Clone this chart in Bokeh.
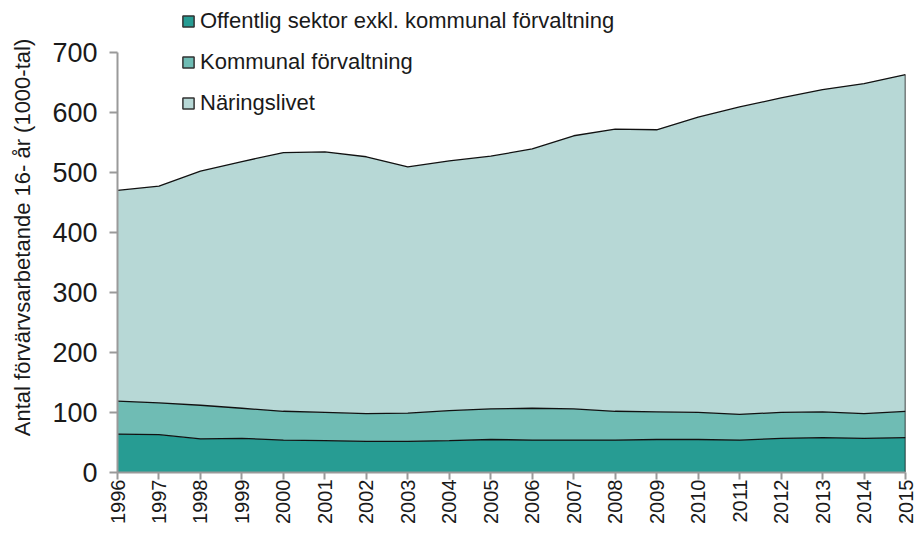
from bokeh.plotting import figure
from bokeh.models import ColumnDataSource, Range1d, FixedTicker, Legend, LegendItem
from bokeh.embed import file_html
from bokeh.resources import INLINE

years = list(range(1996, 2016))
offentlig = [64, 63, 56, 57, 54, 53, 52, 52, 53, 55, 54, 54, 54, 55, 55, 54, 57, 58, 57, 58]
kommunal = [55, 53, 56, 50, 48, 47, 46, 47, 50, 51, 53, 52, 48, 46, 45, 43, 43, 43, 41, 44]
naringsliv = [351, 361, 390, 411, 431, 434, 428, 410, 416, 421, 432, 455, 470, 470, 492, 512, 524, 537, 550, 561]
y_ticks = [0, 100, 200, 300, 400, 500, 600, 700]
series_names = ["Offentlig sektor exkl. kommunal förvaltning", "Kommunal förvaltning", "Näringslivet"]
colors = ["#279c93", "#6fbcb4", "#b7d8d6"]

COND = "'Liberation Sans Narrow', 'Arial Narrow', 'Liberation Sans', sans-serif"
REG = "'Liberation Sans', Arial, sans-serif"

source = ColumnDataSource(dict(year=years, off=offentlig, kom=kommunal, nar=naringsliv))

p = figure(width=916, height=538, output_backend="svg", toolbar_location=None,
           x_range=Range1d(years[0], years[-1]), y_range=Range1d(0, 783))
p.min_border_left = 117
p.min_border_right = 11
p.min_border_top = 2
p.min_border_bottom = 66
p.outline_line_color = None
p.background_fill_color = "white"
p.border_fill_color = "white"
p.xgrid.visible = False
p.ygrid.visible = False

p.varea_stack(["off", "kom", "nar"], x="year", color=colors, source=source)
p.vline_stack(["off", "kom", "nar"], x="year", color="#111111", line_width=1.3, source=source)
total_last = offentlig[-1] + kommunal[-1] + naringsliv[-1]
p.segment(x0=[years[-1]], y0=[0], x1=[years[-1]], y1=[total_last], line_color="#111111", line_width=1.5)

# legend swatches (hidden renderers, used only for the legend glyphs)
items = []
for name, c in zip(series_names, colors):
    r = p.rect(x=years[:1], y=offentlig[:1], width=1, height=1, fill_color=c,
               line_color="#333333", line_width=1.5, visible=False)
    items.append(LegendItem(label=name, renderers=[r]))
legend = Legend(items=items, location=(64, 356))
legend.label_text_font = COND
legend.label_text_font_size = "22px"
legend.label_text_color = "#1a1a1a"
legend.glyph_width = 14
legend.glyph_height = 14
legend.label_height = 20
legend.label_standoff = 5
legend.spacing = 15
legend.padding = 0
legend.margin = 0
legend.border_line_color = None
legend.background_fill_alpha = 0
legend.inactive_fill_alpha = 0
p.add_layout(legend)

# axes
xa = p.xaxis[0]
xa.ticker = FixedTicker(ticks=years)
xa.major_label_orientation = 3.14159265 / 2
xa.major_label_text_font = REG
xa.major_label_text_font_size = "20px"
xa.major_label_text_color = "#1a1a1a"
xa.axis_line_color = "#9a9a9a"
xa.axis_line_width = 2
xa.major_tick_line_color = "#9a9a9a"
xa.major_tick_line_width = 2
xa.major_tick_out = 7
xa.major_tick_in = 0
xa.minor_tick_line_color = None
xa.major_label_standoff = 0

ya = p.yaxis[0]
ya.ticker = FixedTicker(ticks=y_ticks)
ya.bounds = (y_ticks[0], y_ticks[-1])
ya.major_label_text_font = COND
ya.major_label_text_font_size = "27px"
ya.major_label_text_color = "#1a1a1a"
ya.axis_line_color = "#9a9a9a"
ya.axis_line_width = 2
ya.major_tick_line_color = "#9a9a9a"
ya.major_tick_line_width = 2
ya.major_tick_out = 8
ya.major_tick_in = 0
ya.minor_tick_line_color = None
ya.major_label_standoff = 12
ya.axis_label = "Antal förvärvsarbetande 16- år (1000-tal)"
ya.axis_label_text_font = REG
ya.axis_label_text_font_style = "normal"
ya.axis_label_text_font_size = "22px"
ya.axis_label_text_color = "#1a1a1a"
ya.axis_label_standoff = 14

open("out.html", "w").write(file_html(p, INLINE))
